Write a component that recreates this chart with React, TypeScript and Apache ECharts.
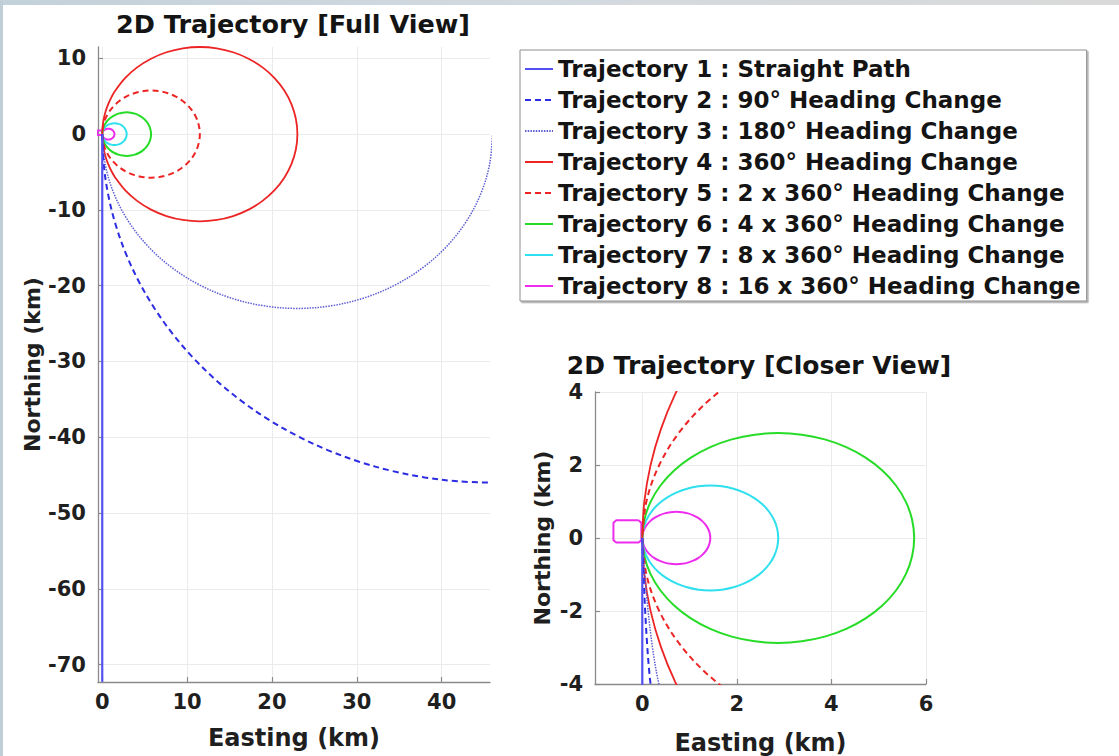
import React, { useEffect, useRef } from "react";
import * as echarts from "echarts";

// ---- Data (km) ----
const trajectoryNames = [
  "Trajectory 1 : Straight Path",
  "Trajectory 2 : 90° Heading Change",
  "Trajectory 3 : 180° Heading Change",
  "Trajectory 4 : 360° Heading Change",
  "Trajectory 5 : 2 x 360° Heading Change",
  "Trajectory 6 : 4 x 360° Heading Change",
  "Trajectory 7 : 8 x 360° Heading Change",
  "Trajectory 8 : 16 x 360° Heading Change",
];

const traj1 = [[0, 0], [0, -72.26]];

const traj2 = [
  [0, 0], [0.175, -4.011], [0.699, -7.986], [1.569, -11.905], [2.774, -15.732],
  [4.31, -19.44], [6.164, -23], [8.317, -26.386], [10.764, -29.569], [13.473, -32.527],
  [16.431, -35.236], [19.614, -37.683], [23, -39.836], [26.56, -41.69], [30.268, -43.226],
  [34.095, -44.431], [38.014, -45.301], [41.989, -45.825], [46, -46],
];

const traj3 = [
  [0, 0], [0.35, -3.993], [1.387, -7.866], [3.082, -11.5], [5.382, -14.784],
  [8.216, -17.618], [11.5, -19.918], [15.134, -21.613], [19.007, -22.65], [23, -23],
  [26.993, -22.65], [30.866, -21.613], [34.5, -19.918], [37.784, -17.618], [40.618, -14.784],
  [42.918, -11.5], [44.613, -7.866], [45.65, -3.993], [46, 0],
];

const traj4 = [
  [0, 0], [0.044, -1.003], [0.175, -1.996], [0.392, -2.976], [0.693, -3.933],
  [1.078, -4.86], [1.541, -5.75], [2.691, -7.392],
  [4.108, -8.809], [5.75, -9.959], [7.567, -10.807], [9.504, -11.325], [11.5, -11.5],
  [13.496, -11.325], [15.433, -10.807], [17.25, -9.959], [18.892, -8.809], [20.309, -7.392],
  [21.459, -5.75], [22.307, -3.933], [22.825, -1.996], [23, 0],
  [22.825, 1.996], [22.307, 3.933], [21.459, 5.75], [20.309, 7.392], [18.892, 8.809],
  [17.25, 9.959], [15.433, 10.807], [13.496, 11.325], [11.5, 11.5], [9.504, 11.325],
  [7.567, 10.807], [5.75, 9.959], [4.108, 8.809], [2.691, 7.392], [1.541, 5.75],
  [1.078, 4.86], [0.693, 3.933], [0.392, 2.976], [0.175, 1.996], [0.044, 1.003], [0, 0],
];

const traj5 = [
  [0, 0], [0.087, -0.998], [0.347, -1.967], [0.771, -2.875], [1.346, -3.696],
  [2.054, -4.405], [2.875, -4.98], [3.784, -5.403], [4.752, -5.663], [5.75, -5.75],
  [6.748, -5.663], [7.717, -5.403], [8.625, -4.98], [9.446, -4.405], [10.155, -3.696],
  [10.73, -2.875], [11.153, -1.967], [11.413, -0.998], [11.5, 0],
  [11.413, 0.998], [11.153, 1.967], [10.73, 2.875], [10.155, 3.696], [9.446, 4.405],
  [8.625, 4.98], [7.717, 5.403], [6.748, 5.663], [5.75, 5.75], [4.752, 5.663],
  [3.784, 5.403], [2.875, 4.98], [2.054, 4.405], [1.346, 3.696], [0.771, 2.875],
  [0.347, 1.967], [0.087, 0.998], [0, 0],
];

const traj6 = [
  [0, 0], [0.044, -0.499], [0.173, -0.983], [0.385, -1.438], [0.673, -1.848],
  [1.027, -2.202], [1.438, -2.49], [1.892, -2.702], [2.376, -2.831], [2.875, -2.875],
  [3.374, -2.831], [3.858, -2.702], [4.313, -2.49], [4.723, -2.202], [5.077, -1.848],
  [5.365, -1.438], [5.577, -0.983], [5.706, -0.499], [5.75, 0],
  [5.706, 0.499], [5.577, 0.983], [5.365, 1.438], [5.077, 1.848], [4.723, 2.202],
  [4.313, 2.49], [3.858, 2.702], [3.374, 2.831], [2.875, 2.875], [2.376, 2.831],
  [1.892, 2.702], [1.438, 2.49], [1.027, 2.202], [0.673, 1.848], [0.385, 1.438],
  [0.173, 0.983], [0.044, 0.499], [0, 0],
];

const traj7 = [
  [0, 0], [0.022, -0.25], [0.087, -0.492], [0.193, -0.719], [0.336, -0.924],
  [0.513, -1.101], [0.719, -1.245], [0.946, -1.351], [1.188, -1.416], [1.438, -1.438],
  [1.687, -1.416], [1.929, -1.351], [2.156, -1.245], [2.362, -1.101], [2.539, -0.924],
  [2.682, -0.719], [2.788, -0.492], [2.853, -0.25], [2.875, 0],
  [2.853, 0.25], [2.788, 0.492], [2.682, 0.719], [2.539, 0.924], [2.362, 1.101],
  [2.156, 1.245], [1.929, 1.351], [1.687, 1.416], [1.438, 1.438], [1.188, 1.416],
  [0.946, 1.351], [0.719, 1.245], [0.513, 1.101], [0.336, 0.924], [0.193, 0.719],
  [0.087, 0.492], [0.022, 0.25], [0, 0],
];

const traj8 = [
  [0, 0], [0.011, -0.125], [0.043, -0.246], [0.096, -0.359], [0.168, -0.462],
  [0.257, -0.551], [0.359, -0.622], [0.473, -0.675], [0.594, -0.708], [0.719, -0.719],
  [0.844, -0.708], [0.965, -0.675], [1.078, -0.622], [1.181, -0.551], [1.269, -0.462],
  [1.341, -0.359], [1.394, -0.246], [1.427, -0.125], [1.438, 0],
  [1.427, 0.125], [1.394, 0.246], [1.341, 0.359], [1.269, 0.462], [1.181, 0.551],
  [1.078, 0.622], [0.965, 0.675], [0.844, 0.708], [0.719, 0.719], [0.594, 0.708],
  [0.473, 0.675], [0.359, 0.622], [0.257, 0.551], [0.168, 0.462], [0.096, 0.359],
  [0.043, 0.246], [0.011, 0.125], [0, 0],
];

const traj8Box = [
  [-0.08, 0.485], [-0.55, 0.485], [-0.61, 0.42], [-0.61, -0.06], [-0.55, -0.126],
  [-0.08, -0.126], [-0.02, -0.06], [-0.02, 0.42], [-0.08, 0.485],
];

const fullXTicks = [0, 10, 20, 30, 40];
const fullYTicks = [10, 0, -10, -20, -30, -40, -50, -60, -70];
const closeXTicks = [0, 2, 4, 6];
const closeYTicks = [4, 2, 0, -2, -4];

// ---- Styles ----
const FONT = '"DejaVu Sans", "Liberation Sans", sans-serif';
const TEXT = "#1f1f1f";
const AXIS = "#8a8a8a";

const styles = [
  { color: "#5252f2", type: "solid", width: 2.2 },
  { color: "#2c2ce2", type: [6, 4], width: 2 },
  { color: "#5e5ed6", type: [1.5, 1.2], width: 1.5 },
  { color: "#ec2424", type: "solid", width: 1.8 },
  { color: "#ec2424", type: [6, 4], width: 2 },
  { color: "#26dc26", type: "solid", width: 2 },
  { color: "#2ee0ee", type: "solid", width: 2 },
  { color: "#ee2cee", type: "solid", width: 2 },
];

const trajData = [traj1, traj2, traj3, traj4, traj5, traj6, traj7, traj8];

function makeAxis(
  gridIndex: number,
  min: number,
  max: number,
  ticks: number[],
  name: string,
  nameGap: number,
  nameSize: number
) {
  return {
    type: "value",
    gridIndex,
    min,
    max,
    name,
    nameLocation: "middle",
    nameGap,
    nameTextStyle: { fontSize: nameSize, fontWeight: "bold", fontFamily: FONT, color: TEXT },
    axisLine: { show: true, onZero: false, lineStyle: { color: AXIS, width: 1.3 } },
    axisTick: { show: true, inside: true, length: 5, customValues: ticks, lineStyle: { color: AXIS, width: 1.2 } },
    axisLabel: {
      show: true,
      customValues: ticks,
      fontSize: 21,
      fontWeight: "bold",
      fontFamily: FONT,
      color: TEXT,
      lineHeight: 16,
      margin: 12,
    },
    splitLine: { show: true, lineStyle: { color: "#ebebeb", width: 1 } },
  };
}

function buildSeries() {
  const out: any[] = [];
  for (let g = 0; g < 2; g++) {
    trajData.forEach((d, i) => {
      out.push({
        type: "line",
        name: trajectoryNames[i],
        xAxisIndex: g,
        yAxisIndex: g,
        data: d,
        symbol: "none",
        showSymbol: false,
        smooth: i === 0 ? false : 0.35,
        clip: true,
        lineStyle: styles[i],
        itemStyle: { color: styles[i].color },
        z: 10 - i,
      });
    });
    out.push({
      type: "line",
      name: trajectoryNames[7],
      xAxisIndex: g,
      yAxisIndex: g,
      data: traj8Box,
      symbol: "none",
      showSymbol: false,
      clip: true,
      lineStyle: styles[7],
      itemStyle: { color: styles[7].color },
      z: 3,
    });
  }
  return out;
}

export default function App() {
  const ref = useRef<HTMLDivElement>(null);
  useEffect(() => {
    if (!ref.current) return;
    const chart = echarts.init(ref.current, undefined, { renderer: "svg" });
    chart.setOption({
      animation: false,
      backgroundColor: "#ffffff",
      grid: [
        { left: 98, top: 47, width: 392, height: 635, containLabel: false, outerBoundsMode: "none" },
        { left: 595, top: 392, width: 331, height: 292, containLabel: false, outerBoundsMode: "none" },
      ],
      xAxis: [
        makeAxis(0, -0.5, 45.7, fullXTicks, "Easting (km)", 44, 24),
        makeAxis(1, -1, 6, closeXTicks, "Easting (km)", 47, 24),
      ],
      yAxis: [
        makeAxis(0, -72.3, 11.5, fullYTicks, "Northing (km)", 55, 22),
        makeAxis(1, -4, 4, closeYTicks, "Northing (km)", 42, 22),
      ],
      legend: {
        show: true,
        orient: "vertical",
        left: 520,
        top: 50,
        padding: [7, 6, 3, 4],
        itemGap: 7,
        itemWidth: 28,
        itemHeight: 14,
        selectedMode: false,
        backgroundColor: "#ffffff",
        borderColor: "#8e8e8e",
        borderWidth: 1,
        borderRadius: 0,
        shadowColor: "rgba(0,0,0,0.35)",
        shadowBlur: 1,
        shadowOffsetX: 1.5,
        shadowOffsetY: 1.5,
        itemStyle: { opacity: 0, borderWidth: 0 },
        data: trajectoryNames,
        textStyle: { fontSize: 23, fontWeight: "bold", fontFamily: FONT, color: "#141414", lineHeight: 24 },
      },
      graphic: [
        {
          type: "text",
          x: 293,
          y: 24,
          style: {
            text: "2D Trajectory [Full View]",
            fontSize: 25.5,
            fontWeight: "bold",
            fontFamily: FONT,
            fill: "#141414",
            lineHeight: 20,
            align: "center",
            verticalAlign: "middle",
          },
        },
        {
          type: "text",
          x: 759,
          y: 365,
          style: {
            text: "2D Trajectory [Closer View]",
            fontSize: 25,
            fontWeight: "bold",
            fontFamily: FONT,
            fill: "#141414",
            lineHeight: 20,
            align: "center",
            verticalAlign: "middle",
          },
        },
      ],
      series: buildSeries(),
    });
    return () => chart.dispose();
  }, []);

  return (
    <div style={{ position: "fixed", left: 0, top: 0, width: 1119, height: 756, background: "#ffffff", overflow: "hidden" }}>
      <div ref={ref} style={{ position: "absolute", left: 0, top: 0, width: 1119, height: 756 }} />
      <div style={{ position: "absolute", left: 0, top: 0, width: 1119, height: 5, background: "linear-gradient(90deg, #c3d1da 0%, #d3dadf 50%, #d9d9d9 100%)" }} />
      <div style={{ position: "absolute", left: 0, top: 0, width: 3, height: 756, background: "#c0ced7" }} />
    </div>
  );
}
